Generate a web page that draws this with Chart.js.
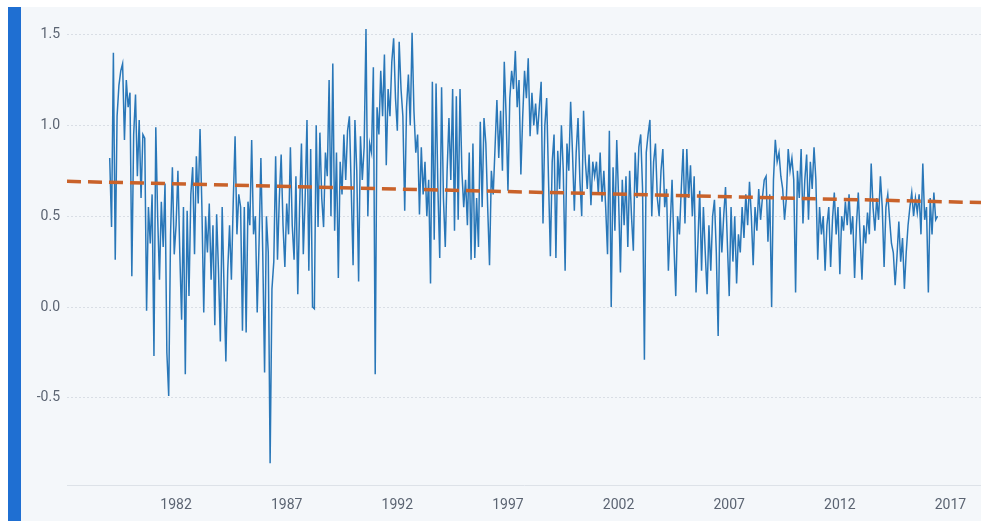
<!DOCTYPE html>
<html>
<head>
<meta charset="utf-8">
<script src="https://cdn.jsdelivr.net/npm/chart.js@4.4.1/dist/chart.umd.min.js"></script>
<style>
    html, body { margin: 0; padding: 0; background: #ffffff; }
    #wrap {
        position: absolute; left: 8px; top: 7px; width: 973px; height: 514px;
        border-left: 13px solid #1f6fd2; background: #f4f7fa; box-sizing: border-box;
    }
    #spread-chart { position: absolute; left: 0; top: -6px; }
</style>
</head>
<body>
<div id="wrap"><canvas id="spread-chart" width="960" height="520"></canvas></div>
<script>
// monthly readings, Jan 1979 .. Jun 2016 (one row per year)
const startYear = 1979;
const monthlyValues = [
    0.82, 0.44, 1.40, 0.26, 1.05, 1.22, 1.30, 1.34, 0.92, 1.25, 1.10, 1.18,
    0.17, 0.95, 1.17, 0.72, 1.03, 0.60, 0.95, 0.93, -0.02, 0.55, 0.35, 0.62,
    -0.27, 0.99, 0.50, 0.15, 0.58, 0.33, 0.68, -0.25, -0.49, 0.40, 0.77, 0.29,
    0.45, 0.75, 0.30, -0.07, 0.55, -0.37, 0.53, 0.06, 0.62, 0.77, 0.29, 0.83,
    0.57, 0.98, 0.55, -0.03, 0.50, 0.30, 0.57, 0.15, 0.45, -0.10, 0.51, 0.20,
    -0.19, 0.55, 0.11, -0.30, 0.20, 0.45, 0.15, 0.58, 0.94, 0.40, 0.62, 0.55,
    -0.13, 0.55, -0.14, 0.58, 0.45, 0.92, 0.40, 0.50, -0.03, 0.35, 0.82, 0.30,
    -0.36, 0.50, 0.30, -0.86, 0.10, 0.25, 0.83, 0.26, 0.60, 0.84, 0.45, 0.22,
    0.57, 0.40, 0.88, 0.45, 0.26, 0.72, 0.07, 0.55, 0.90, 0.29, 0.60, 1.03,
    0.20, 0.87, 0.00, -0.01, 1.00, 0.44, 0.96, 0.60, 0.44, 0.85, 0.72, 1.25,
    0.50, 1.34, 0.42, 0.85, 0.16, 0.80, 0.62, 0.95, 0.70, 0.97, 1.05, 0.65,
    0.23, 1.03, 0.75, 0.14, 0.94, 0.70, 0.88, 1.53, 0.50, 0.90, 0.85, 1.32,
    -0.37, 1.10, 0.95, 1.30, 1.05, 1.39, 0.78, 1.20, 1.05, 1.35, 1.48, 1.15,
    0.97, 1.46, 1.20, 1.05, 0.53, 1.10, 1.28, 1.00, 1.51, 1.08, 0.85, 0.95,
    0.51, 0.88, 0.62, 0.80, 0.50, 0.70, 0.13, 1.24, 0.37, 1.23, 0.65, 0.27,
    1.21, 0.60, 0.33, 0.75, 1.04, 0.70, 1.20, 0.42, 1.16, 0.48, 1.20, 0.75,
    0.55, 0.70, 0.45, 0.85, 0.26, 0.90, 0.27, 0.60, 0.33, 1.02, 0.55, 1.04,
    0.90, 0.55, 0.23, 0.75, 0.62, 0.88, 1.14, 0.82, 1.08, 0.75, 1.35, 1.05,
    0.64, 1.15, 1.30, 1.20, 1.41, 1.10, 1.25, 0.73, 1.05, 1.30, 1.15, 1.37,
    0.94, 1.18, 1.00, 1.12, 0.95, 1.10, 1.24, 0.46, 1.00, 1.15, 0.70, 0.28,
    0.80, 0.95, 0.27, 0.86, 0.65, 1.00, 0.75, 0.20, 0.90, 0.75, 1.13, 0.85,
    0.53, 0.85, 1.04, 0.70, 0.50, 1.08, 0.80, 0.65, 0.84, 0.56, 0.80, 0.72,
    0.80, 0.62, 0.85, 0.58, 0.75, 0.55, 0.29, 0.97, 0.00, 0.77, 0.42, 0.92,
    0.60, 0.19, 0.70, 0.45, 0.72, 0.33, 0.75, 0.50, 0.31, 0.85, 0.60, 0.88,
    0.95, 0.65, -0.29, 0.85, 0.95, 1.03, 0.50, 0.80, 0.90, 0.60, 0.50, 0.75,
    0.87, 0.55, 0.65, 0.20, 0.45, 0.70, 0.35, 0.06, 0.50, 0.40, 0.65, 0.87,
    0.46, 0.87, 0.60, 0.78, 0.50, 0.72, 0.08, 0.35, 0.64, 0.20, 0.55, 0.30,
    0.07, 0.45, 0.20, 0.50, 0.59, 0.30, -0.16, 0.55, 0.30, 0.50, 0.66, 0.35,
    0.06, 0.55, 0.25, 0.50, 0.13, 0.40, 0.30, 0.55, 0.38, 0.62, 0.45, 0.69,
    0.50, 0.23, 0.55, 0.42, 0.65, 0.48, 0.60, 0.70, 0.72, 0.36, 0.62, 0.00,
    0.70, 0.92, 0.80, 0.85, 0.72, 0.65, 0.48, 0.60, 0.87, 0.75, 0.82, 0.70,
    0.08, 0.75, 0.60, 0.87, 0.46, 0.70, 0.84, 0.48, 0.80, 0.65, 0.88, 0.70,
    0.26, 0.55, 0.40, 0.50, 0.20, 0.45, 0.55, 0.22, 0.48, 0.63, 0.40, 0.55,
    0.18, 0.50, 0.42, 0.58, 0.45, 0.62, 0.40, 0.50, 0.16, 0.45, 0.63, 0.38,
    0.15, 0.45, 0.35, 0.52, 0.40, 0.79, 0.55, 0.42, 0.60, 0.48, 0.72, 0.55,
    0.22, 0.55, 0.62, 0.48, 0.35, 0.30, 0.12, 0.28, 0.47, 0.25, 0.38, 0.10,
    0.30, 0.45, 0.55, 0.63, 0.50, 0.60, 0.52, 0.62, 0.40, 0.79, 0.48, 0.55,
    0.08, 0.60, 0.40, 0.63, 0.48, 0.50
];

// dashed trend line end points
const trendYears = [1977.07, 2018.38];
const trendValues = [0.692, 0.575];

const tickYears = [1982, 1987, 1992, 1997, 2002, 2007, 2012, 2017];
const yTicks = [-0.5, 0.0, 0.5, 1.0, 1.5];

document.addEventListener('DOMContentLoaded', (event) => {
    const series = monthlyValues.map((v, i) => ({ x: startYear + i / 12, y: v }));
    const trend = trendYears.map((yr, i) => ({ x: yr, y: trendValues[i] }));

    const ctx = document.getElementById('spread-chart').getContext('2d');
    const spreadChart = new Chart(ctx, {
        type: 'line',
        data: {
            datasets: [{
                label: 'Spread',
                data: series,
                borderColor: '#2977b8',
                borderWidth: 1.5,
                pointRadius: 0,
                tension: 0,
                order: 2
            }, {
                label: 'Trend',
                data: trend,
                borderColor: '#c9622a',
                borderWidth: 3.5,
                borderDash: [14, 7],
                pointRadius: 0,
                order: 1
            }]
        },
        options: {
            responsive: false,
            animation: false,
            layout: { padding: { top: 3, right: 0, left: 0, bottom: 0 } },
            plugins: {
                legend: { display: false },
                tooltip: { enabled: false }
            },
            scales: {
                x: {
                    type: 'linear',
                    min: 1977.07,
                    max: 2018.38,
                    afterBuildTicks: (scale) => {
                        scale.ticks = tickYears.map(v => ({ value: v }));
                    },
                    afterFit: (scale) => { scale.height = 36; },
                    grid: { display: false, drawTicks: false },
                    border: { display: true, color: '#dde2e8', width: 1 },
                    ticks: {
                        padding: 12,
                        color: '#5b6472',
                        font: { family: 'Roboto', size: 14 },
                        maxRotation: 0,
                        autoSkip: false,
                        callback: (v) => String(v)
                    }
                },
                y: {
                    min: -0.98,
                    max: 1.6,
                    afterBuildTicks: (scale) => {
                        scale.ticks = yTicks.map(v => ({ value: v }));
                    },
                    afterFit: (scale) => { scale.width = 46; },
                    grid: { color: '#d9dee5', borderDash: [2, 2], drawTicks: false },
                    border: { display: false, dash: [2, 2] },
                    ticks: {
                        padding: 7,
                        color: '#5b6472',
                        font: { family: 'Roboto', size: 14 },
                        callback: (v) => v.toFixed(1)
                    }
                }
            }
        }
    });
});
</script>
</body>
</html>
